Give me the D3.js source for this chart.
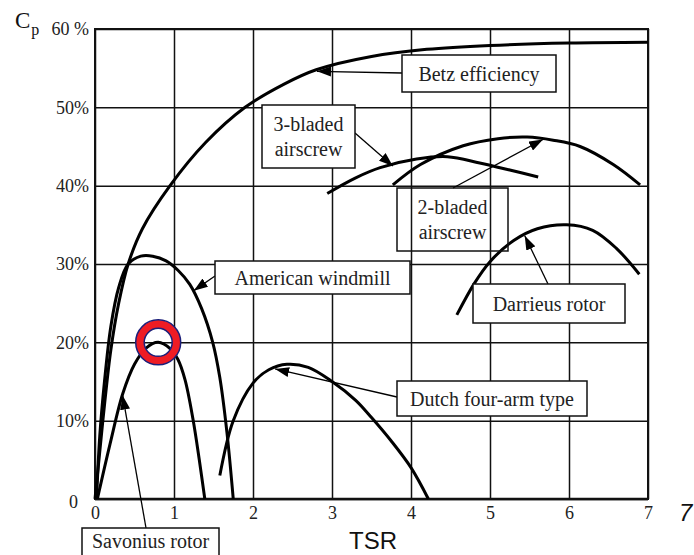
<!DOCTYPE html>
<html>
<head>
<meta charset="utf-8">
<script src="https://cdn.jsdelivr.net/npm/d3@7"></script>
<style>
  html, body { margin: 0; padding: 0; background: #fff; }
  svg { display: block; font-family: 'Liberation Serif', 'Times New Roman', serif; }
</style>
</head>
<body>
<div id="chart"></div>
<script>
// axis ticks
const tsrTicks = [0, 1, 2, 3, 4, 5, 6, 7];
const cpTicks = [0, 10, 20, 30, 40, 50, 60];
const cpTickLabels = ['0', '10%', '20%', '30%', '40%', '50%', '60 %'];

// curves, [TSR, Cp %]
const betz = [[0, 0], [0.05, 5], [0.12, 12], [0.2, 19], [0.3, 25], [0.42, 30], [0.6, 34.5],
    [0.95, 40], [1.4, 45.5], [1.9, 50], [2.4, 53], [2.8, 54.8], [3.5, 56.5], [4.2, 57.4],
    [5, 57.9], [6, 58.2], [7, 58.3]];
const american = [[0.02, 0], [0.06, 8], [0.12, 15], [0.2, 22], [0.3, 27], [0.42, 30],
    [0.58, 31], [0.73, 31], [0.9, 30.4], [1.05, 29.2], [1.2, 27.4], [1.35, 24.3], [1.49, 20],
    [1.58, 15.5], [1.67, 8.5], [1.75, 0]];
const savonius = [[0.03, 0], [0.19, 7], [0.35, 13.4], [0.5, 17.2], [0.65, 19.3], [0.8, 20],
    [0.95, 19.2], [1.05, 17.8], [1.14, 15.2], [1.24, 10.2], [1.32, 5], [1.39, 0]];
const dutch = [[1.58, 3], [1.75, 10], [2.0, 14.8], [2.2, 16.5], [2.43, 17.2], [2.7, 16.8],
    [3.0, 15.0], [3.3, 12.6], [3.5, 10.4], [3.75, 7.4], [4.0, 4], [4.22, 0]];
const bladed3 = [[2.94, 39], [3.3, 41], [3.61, 42.3], [4.07, 43.4], [4.46, 43.7], [4.87, 42.9],
    [5.25, 42], [5.61, 41.1]];
const bladed2 = [[3.77, 40.1], [4.12, 42.7], [4.66, 45.1], [5.1, 46], [5.47, 46.2], [5.8, 45.8],
    [6.14, 45], [6.56, 42.7], [6.9, 40.1]];
const darrieus = [[4.58, 23.5], [4.8, 27.5], [5.0, 30.3], [5.3, 33], [5.6, 34.5], [5.97, 35],
    [6.3, 34.3], [6.6, 32], [6.89, 28.7]];

// label texts and the point each arrow points to
const labelTexts = [['Betz efficiency'], ['3-bladed', 'airscrew'], ['2-bladed', 'airscrew'],
    ['American windmill'], ['Darrieus rotor'], ['Dutch four-arm type'], ['Savonius rotor']];
const labelTargets = [[2.81, 54.6], [3.77, 42.5], [5.67, 45.9], [1.25, 26.6], [5.44, 33.6],
    [2.28, 16.6], [0.35, 13.2]];
const highlight = [0.8, 20];

const W = 694, H = 555;
const margin = { top: 29, right: 46, bottom: 56, left: 95 };
const w = W - margin.left - margin.right;
const h = H - margin.top - margin.bottom;

const svg = d3.select('#chart')
    .append('svg')
    .attr('width', W)
    .attr('height', H);

const x = d3.scaleLinear().domain([0, 7]).range([margin.left, margin.left + w]);
const y = d3.scaleLinear().domain([0, 60]).range([margin.top + h, margin.top]);

// grid + x labels
const xAxis = d3.axisBottom(x)
    .tickValues(tsrTicks)
    .tickSize(-h)
    .tickPadding(7)
    .tickFormat(d3.format('d'));
svg.append('g')
    .attr('transform', `translate(0, ${margin.top + h})`)
    .call(xAxis)
    .call(g => g.select('.domain').remove())
    .call(g => g.selectAll('line').attr('stroke', '#111').attr('stroke-width', 1.5))
    .call(g => g.selectAll('text').attr('font-size', 18).attr('font-family', 'Liberation Serif').attr('fill', '#222'));

const yAxis = d3.axisLeft(y)
    .tickValues(cpTicks)
    .tickSize(-w)
    .tickPadding(6)
    .tickFormat((d, i) => cpTickLabels[i]);
svg.append('g')
    .attr('transform', `translate(${margin.left}, 0)`)
    .call(yAxis)
    .call(g => g.select('.domain').remove())
    .call(g => g.selectAll('line').attr('stroke', '#111').attr('stroke-width', 1.5))
    .call(g => g.selectAll('text').attr('font-size', 18).attr('font-family', 'Liberation Serif').attr('fill', '#222'))
    .call(g => g.selectAll('.tick').filter(d => d === 0).select('text').attr('x', -17).attr('dy', '0.45em'));

// frame
svg.append('rect')
    .attr('x', margin.left)
    .attr('y', margin.top)
    .attr('width', w)
    .attr('height', h)
    .attr('fill', 'none')
    .attr('stroke', '#111')
    .attr('stroke-width', 2);
svg.append('line')
    .attr('x1', margin.left).attr('x2', margin.left + w)
    .attr('y1', margin.top + h).attr('y2', margin.top + h)
    .attr('stroke', '#111').attr('stroke-width', 2.5);

// curves
const line = d3.line()
    .x(d => x(d[0]))
    .y(d => y(d[1]))
    .curve(d3.curveCatmullRom.alpha(0.5));

[betz, american, savonius, dutch, bladed3, bladed2, darrieus].forEach((c) => {
    svg.append('path')
        .datum(c)
        .attr('d', line)
        .attr('fill', 'none')
        .attr('stroke', '#000')
        .attr('stroke-width', 3)
        .attr('stroke-linejoin', 'round');
});

// arrow head
svg.append('defs').append('marker')
    .attr('id', 'head')
    .attr('viewBox', '0 0 14 10')
    .attr('refX', 14)
    .attr('refY', 5)
    .attr('markerWidth', 14)
    .attr('markerHeight', 10)
    .attr('markerUnits', 'userSpaceOnUse')
    .attr('orient', 'auto')
    .append('path')
    .attr('d', 'M0,0 L14,5 L0,10 Z')
    .attr('fill', '#000');

// label boxes: x, y, width, height, line start, fill
const boxes = [
    { x: 402, y: 55, w: 154, h: 37, from: [402, 73], fill: '#fff' },
    { x: 262, y: 105, w: 93, h: 63, from: [355, 133], fill: '#fff' },
    { x: 397, y: 188, w: 111, h: 63, from: [453, 188], fill: 'none' },
    { x: 215, y: 261, w: 195, h: 33, from: [215, 276], fill: '#fff' },
    { x: 473, y: 284, w: 152, h: 39, from: [548, 284], fill: '#fff' },
    { x: 397, y: 381, w: 190, h: 35, from: [397, 397], fill: '#fff' },
    { x: 82, y: 528, w: 137, h: 40, from: [146, 528], fill: '#fff' }
];

boxes.forEach((b, i) => {
    const t = labelTargets[i];
    svg.append('line')
        .attr('x1', b.from[0]).attr('y1', b.from[1])
        .attr('x2', x(t[0])).attr('y2', y(t[1]))
        .attr('stroke', '#000')
        .attr('stroke-width', 1.3)
        .attr('marker-end', 'url(#head)');
    svg.append('rect')
        .attr('x', b.x).attr('y', b.y)
        .attr('width', b.w).attr('height', b.h)
        .attr('fill', b.fill)
        .attr('stroke', '#111')
        .attr('stroke-width', 1.5);
    const lines = labelTexts[i];
    const cy = i === 6 ? b.y + 13 : b.y + b.h / 2;
    lines.forEach((s, j) => {
        svg.append('text')
            .attr('x', b.x + b.w / 2)
            .attr('y', cy + (j - (lines.length - 1) / 2) * 25)
            .attr('dy', '0.35em')
            .attr('text-anchor', 'middle')
            .attr('font-size', 20)
            .attr('fill', '#222')
            .text(s);
    });
});

// red ring
const ring = svg.append('g')
    .attr('transform', `translate(${x(highlight[0])}, ${y(highlight[1])})`);
ring.append('circle').attr('r', 18.2).attr('fill', 'none').attr('stroke', '#ee1c24').attr('stroke-width', 8.5);
ring.append('circle').attr('r', 22.5).attr('fill', 'none').attr('stroke', '#1b1f7a').attr('stroke-width', 1.5);
ring.append('circle').attr('r', 14).attr('fill', 'none').attr('stroke', '#1b1f7a').attr('stroke-width', 1.5);

// axis titles
const cp = svg.append('text')
    .attr('x', 15)
    .attr('y', 28)
    .attr('font-size', 23)
    .attr('fill', '#111');
cp.append('tspan').text('C');
cp.append('tspan').attr('font-size', 16).attr('dy', 7).attr('dx', 1).text('p');

svg.append('text')
    .attr('x', 349)
    .attr('y', 549)
    .attr('font-family', 'Liberation Sans, Arial, sans-serif')
    .attr('font-size', 24)
    .attr('fill', '#111')
    .text('TSR');

svg.append('text')
    .attr('x', 679)
    .attr('y', 521)
    .attr('font-family', 'Liberation Sans, Arial, sans-serif')
    .attr('font-style', 'italic')
    .attr('font-size', 24)
    .attr('fill', '#111')
    .text('7');
</script>
</body>
</html>
